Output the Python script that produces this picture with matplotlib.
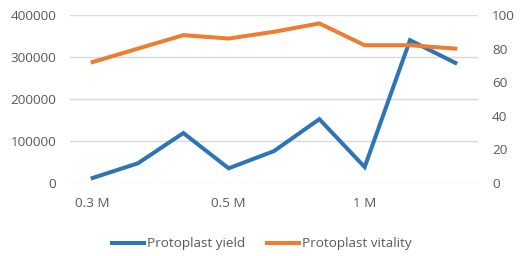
import matplotlib
matplotlib.use("Agg")
import matplotlib.pyplot as plt

categories = ["0.3 M", "", "", "0.5 M", "", "", "1 M", "", ""]
yield_vals = [12000, 47000, 119000, 35000, 76000, 152000, 38000, 340000, 286000]
vitality_vals = [72, 80, 88, 86, 90, 95, 82, 82, 80]
left_ticks = [0, 100000, 200000, 300000, 400000]
right_ticks = [0, 20, 40, 60, 80, 100]

plt.rcParams['font.family'] = ['Open Sans', 'DejaVu Sans']
txt = '#595959'
fs = 9.7

fig = plt.figure(figsize=(5.23, 2.56), dpi=100)
ax = fig.add_axes([70/523, 1-183/256, (478-70)/523, (183-15)/256])
ax2 = ax.twinx()

x = list(range(len(categories)))
l1, = ax.plot(x, yield_vals, color='#2E75B6', lw=2.9, solid_joinstyle='miter', label='Protoplast yield', zorder=3)
l2, = ax2.plot(x, vitality_vals, color='#ED7D31', lw=2.9, solid_joinstyle='miter', label='Protoplast vitality', zorder=3)

ax.set_xlim(-0.5, len(categories)-0.5)
ax.set_ylim(0, 400000)
ax2.set_ylim(0, 100)
ax.set_yticks(left_ticks)
ax.set_yticklabels([str(v) for v in left_ticks])
ax2.set_yticks(right_ticks)
ax2.set_yticklabels([str(v) for v in right_ticks])
ax.set_xticks(x)
ax.set_xticklabels(categories)

ax.grid(axis='y', color='#D9D9D9', lw=1)
ax.set_axisbelow(True)
for a in (ax, ax2):
    for s in a.spines.values():
        s.set_visible(False)
ax.tick_params(axis='both', length=0, colors=txt, labelsize=fs)
ax.tick_params(axis='y', pad=10)
ax.tick_params(axis='x', pad=10)
ax2.tick_params(axis='y', length=0, colors=txt, labelsize=fs, pad=10)

fig.legend(handles=[l1, l2], loc='lower center', bbox_to_anchor=(0.5, -0.025), ncol=2,
           frameon=False, fontsize=fs, labelcolor=txt, handlelength=2.4, handletextpad=0.2,
           columnspacing=1.6)

fig.savefig('out.png', dpi=100)
